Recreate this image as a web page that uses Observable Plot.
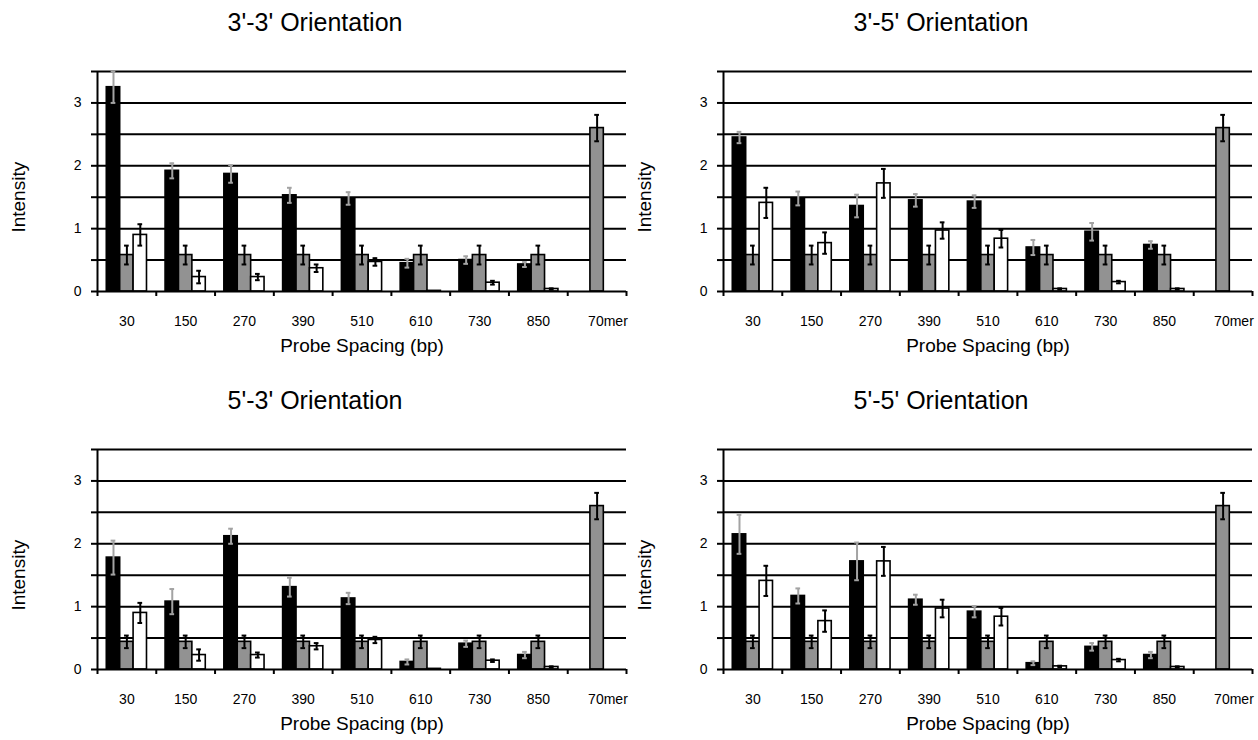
<!DOCTYPE html>
<html>
<head>
<meta charset="utf-8">
<script src="https://cdn.jsdelivr.net/npm/d3@7"></script>
<script src="https://cdn.jsdelivr.net/npm/@observablehq/plot@0.6"></script>
<style>
  body { margin: 0; background: #fff; font-family: "Liberation Sans", Arial, sans-serif; }
  #wrap { position: relative; width: 1258px; height: 740px; }
  .panel { position: absolute; width: 630px; }
  .title { height: 44px; line-height: 44px; text-align: center; font-size: 25px; color: #000; }
  svg { overflow: visible; }
</style>
</head>
<body>
<div id="wrap"></div>
<script>
// Categories (probe spacing)
const categories = ["30", "150", "270", "390", "510", "610", "730", "850", "70mer"];
const yTicks = [0, 0.5, 1, 1.5, 2, 2.5, 3, 3.5];
const yLabels = [0, 1, 2, 3];
const titles = ["3'-3' Orientation", "3'-5' Orientation", "5'-3' Orientation", "5'-5' Orientation"];

// 3'-3' Orientation
const p33Black    = [3.25, 1.92, 1.87, 1.53, 1.48, 0.45, 0.50, 0.43, null];
const p33BlackErr = [0.25, 0.12, 0.14, 0.12, 0.10, 0.07, 0.06, 0.04, null];
const p33Gray     = [0.58, 0.58, 0.58, 0.58, 0.58, 0.58, 0.58, 0.58, 2.60];
const p33GrayErr  = [0.15, 0.15, 0.15, 0.15, 0.15, 0.15, 0.15, 0.15, 0.21];
const p33White    = [0.90, 0.23, 0.23, 0.37, 0.47, 0.01, 0.14, 0.04, null];
const p33WhiteErr = [0.17, 0.10, 0.05, 0.06, 0.06, 0.00, 0.03, 0.01, null];

// 3'-5' Orientation
const p35Black    = [2.45, 1.48, 1.36, 1.45, 1.43, 0.70, 0.95, 0.74, null];
const p35BlackErr = [0.09, 0.11, 0.18, 0.10, 0.10, 0.12, 0.14, 0.06, null];
const p35Gray     = [0.58, 0.58, 0.58, 0.58, 0.58, 0.58, 0.58, 0.58, 2.60];
const p35GrayErr  = [0.15, 0.15, 0.15, 0.15, 0.15, 0.15, 0.15, 0.15, 0.21];
const p35White    = [1.41, 0.77, 1.72, 0.97, 0.84, 0.04, 0.15, 0.04, null];
const p35WhiteErr = [0.24, 0.17, 0.23, 0.13, 0.14, 0.01, 0.02, 0.01, null];

// 5'-3' Orientation
const p53Black    = [1.78, 1.08, 2.12, 1.31, 1.13, 0.12, 0.41, 0.23, null];
const p53BlackErr = [0.27, 0.20, 0.12, 0.15, 0.09, 0.04, 0.05, 0.05, null];
const p53Gray     = [0.44, 0.44, 0.44, 0.44, 0.44, 0.44, 0.44, 0.44, 2.60];
const p53GrayErr  = [0.10, 0.10, 0.10, 0.10, 0.10, 0.10, 0.10, 0.10, 0.21];
const p53White    = [0.90, 0.23, 0.23, 0.37, 0.47, 0.01, 0.14, 0.04, null];
const p53WhiteErr = [0.16, 0.09, 0.04, 0.05, 0.05, 0.00, 0.02, 0.01, null];

// 5'-5' Orientation
const p55Black    = [2.15, 1.17, 1.72, 1.11, 0.92, 0.10, 0.36, 0.23, null];
const p55BlackErr = [0.31, 0.12, 0.30, 0.08, 0.09, 0.03, 0.06, 0.05, null];
const p55Gray     = [0.44, 0.44, 0.44, 0.44, 0.44, 0.44, 0.44, 0.44, 2.60];
const p55GrayErr  = [0.10, 0.10, 0.10, 0.10, 0.10, 0.10, 0.10, 0.10, 0.21];
const p55White    = [1.41, 0.77, 1.72, 0.97, 0.84, 0.05, 0.15, 0.04, null];
const p55WhiteErr = [0.24, 0.17, 0.23, 0.14, 0.14, 0.01, 0.02, 0.01, null];

const panels = [
  [p33Black, p33BlackErr, p33Gray, p33GrayErr, p33White, p33WhiteErr],
  [p35Black, p35BlackErr, p35Gray, p35GrayErr, p35White, p35WhiteErr],
  [p53Black, p53BlackErr, p53Gray, p53GrayErr, p53White, p53WhiteErr],
  [p55Black, p55BlackErr, p55Gray, p55GrayErr, p55White, p55WhiteErr]
];

const fills = ["#000000", "#929292", "#ffffff"];
const errColors = ["#a3a3a3", "#000000", "#000000"];
const barW = 0.228;            // fraction of a category slot
const groupStart = (1 - 3 * barW) / 2;
const capHalf = 0.04;

function makeRows(p) {
  const rows = [];
  for (let s = 0; s < 3; s++) {
    const vals = p[s * 2], errs = p[s * 2 + 1];
    categories.forEach((c, i) => {
      if (vals[i] == null) return;
      const x1 = i + groupStart + s * barW;
      rows.push({cat: c, s, v: vals[i], e: errs[i], x1, x2: x1 + barW, xc: x1 + barW / 2});
    });
  }
  return rows;
}

const wrap = document.getElementById("wrap");
const positions = [[0, 0], [626, 0], [0, 378], [626, 378]];
const n = categories.length;
const catIdx = categories.map((c, i) => ({c, i}));

panels.forEach((p, k) => {
  const rows = makeRows(p);
  const errRows = rows.filter(d => d.e > 0);
  const div = document.createElement("div");
  div.className = "panel";
  div.style.left = positions[k][0] + "px";
  div.style.top = positions[k][1] + "px";
  const t = document.createElement("div");
  t.className = "title";
  t.textContent = titles[k];
  div.appendChild(t);

  const chart = Plot.plot({
    width: 630,
    height: 317,
    marginLeft: 97,
    marginRight: 4,
    marginTop: 27,
    marginBottom: 70,
    style: {fontFamily: "Liberation Sans, Arial, sans-serif", color: "#000", background: "transparent", overflow: "visible"},
    x: {domain: [0, n], axis: null},
    y: {domain: [0, 3.5], axis: null},
    marks: [
      Plot.ruleY(yTicks.filter(d => d > 0), {x1: 0, x2: n, stroke: "#000", strokeWidth: 2}),
      Plot.axisY({ticks: yTicks, tickSize: 6, strokeWidth: 2, stroke: "#000", tickFormat: () => "", label: null}),
      Plot.text(yLabels, {x: 0, y: d => d, dx: -16, textAnchor: "end", text: d => String(d), fontSize: 14, fill: "#000"}),
      Plot.rectY(rows, {x1: "x1", x2: "x2", y: "v", fill: d => fills[d.s], stroke: "#000", strokeWidth: 1.6}),
      Plot.ruleX(errRows, {x: "xc", y1: d => d.v - d.e, y2: d => d.v + d.e, stroke: d => errColors[d.s], strokeWidth: 2}),
      Plot.ruleY(errRows, {y: d => d.v + d.e, x1: d => d.xc - capHalf, x2: d => d.xc + capHalf, stroke: d => errColors[d.s], strokeWidth: 2}),
      Plot.ruleY(errRows, {y: d => d.v - d.e, x1: d => d.xc - capHalf, x2: d => d.xc + capHalf, stroke: d => errColors[d.s], strokeWidth: 2}),
      Plot.ruleX([0], {y1: 0, y2: 3.5, stroke: "#000", strokeWidth: 2}),
      Plot.ruleY([0], {x1: 0, x2: n, stroke: "#000", strokeWidth: 2}),
      Plot.axisX({ticks: d3.range(0, n + 1), tickSize: 5, strokeWidth: 2, stroke: "#000", tickFormat: () => "", label: null}),
      Plot.text(catIdx.slice(0, n - 1), {x: d => d.i + 0.5, y: 0, dy: 30, text: "c", fontSize: 14, fill: "#000", textAnchor: "middle"}),
      Plot.text(catIdx.slice(n - 1), {x: d => d.i + 0.5, y: 0, dy: 30, dx: -9, text: "c", fontSize: 14, fill: "#000", textAnchor: "start"}),
      Plot.text(["Probe Spacing (bp)"], {x: n / 2, y: 0, dy: 54, text: d => d, fontSize: 19, fill: "#000"}),
      Plot.text(["Intensity"], {y: 1.5, frameAnchor: "left", dx: -79, rotate: -90, textAnchor: "middle", text: d => d, fontSize: 19, fill: "#000"})
    ]
  });
  div.appendChild(chart);
  wrap.appendChild(div);
});
</script>
</body>
</html>
